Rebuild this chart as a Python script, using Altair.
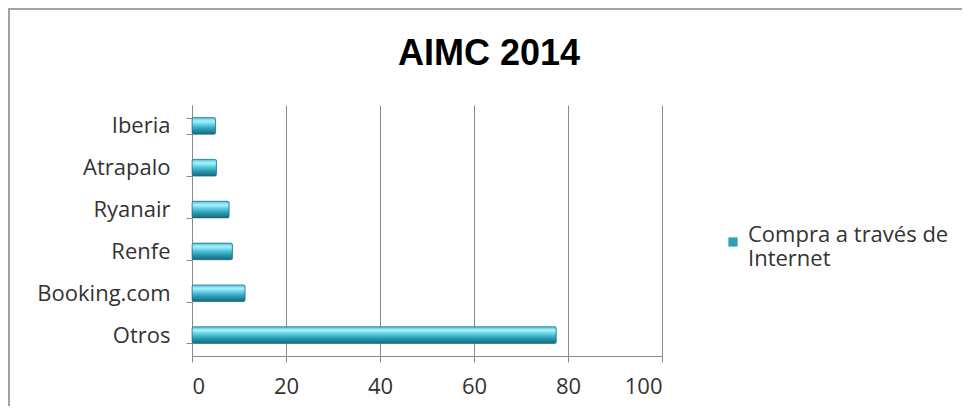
import altair as alt
import pandas as pd

categories = ["Iberia", "Atrapalo", "Ryanair", "Renfe", "Booking.com", "Otros"]
values = [5.0, 5.2, 7.9, 8.6, 11.3, 77.5]
series_name = "Compra a través de Internet"
x_ticks = [0, 20, 40, 60, 80, 100]
title_text = "AIMC 2014"

df = pd.DataFrame({
    "cat": categories,
    "val": values,
    "serie": [series_name] * len(categories),
})

gradient = alt.LinearGradient(
    gradient="linear", x1=0, y1=0, x2=0, y2=1,
    stops=[
        alt.GradientStop(offset=0.0, color="#4fc2d8"),
        alt.GradientStop(offset=0.22, color="#a9f2fc"),
        alt.GradientStop(offset=0.45, color="#58cbe0"),
        alt.GradientStop(offset=0.7, color="#2a9ab2"),
        alt.GradientStop(offset=1.0, color="#17677b"),
    ],
)

GRAY = "#8a8a8a"
LABEL_FONT = "Open Sans"
FS = 22

x_enc = alt.X(
    "val:Q",
    scale=alt.Scale(domain=[0, 100], nice=False),
    axis=alt.Axis(
        values=x_ticks, title=None, grid=True, gridColor=GRAY, gridWidth=1,
        domainColor=GRAY, tickColor=GRAY, tickSize=6, labelPadding=14,
        labelFont=LABEL_FONT, labelFontSize=FS, labelColor="#333333",
    ),
)
y_enc = alt.Y(
    "cat:N", sort=categories,
    scale=alt.Scale(paddingInner=0.6, paddingOuter=0.3),
    axis=alt.Axis(
        title=None, domainColor=GRAY, tickColor=GRAY, tickSize=6,
        tickBand="extent", labelPadding=16, labelFont=LABEL_FONT,
        labelFontSize=FS, labelColor="#333333", grid=False,
    ),
)

legend_bars = alt.Chart(df).mark_bar().encode(
    x=x_enc,
    y=y_enc,
    color=alt.Color(
        "serie:N",
        scale=alt.Scale(range=["#2f9fb8"]),
        legend=alt.Legend(
            title=None, orient="none", legendX=530, legendY=126,
            symbolType="square", symbolSize=85, symbolStrokeWidth=0,
            labelFont=LABEL_FONT, labelFontSize=FS, labelColor="#333333",
            labelBaseline="alphabetic", labelOffset=4, padding=0,
            labelExpr="['Compra a través de', 'Internet']", labelLimit=400,
        ),
    ),
)

bars = alt.Chart(df).mark_bar(
    fill=gradient, stroke="#1c6f83", strokeWidth=0.6, cornerRadius=2
).encode(x=x_enc, y=y_enc)

frame = alt.Chart(df).mark_rect(
    filled=False, stroke="#a3a3a3", strokeWidth=2, clip=False
).encode(
    x=alt.value(-183), x2=alt.value(800),
    y=alt.value(-96), y2=alt.value(330),
)

chart = alt.layer(frame, legend_bars, bars).properties(
    width=470, height=251,
    autosize=alt.AutoSizeParams(type="none"),
    padding={"left": 184, "top": 97, "right": 300, "bottom": 50},
    title=alt.TitleParams(
        title_text, font="Liberation Sans", fontSize=36, fontWeight="bold",
        color="#000000", anchor="middle", frame="group", dx=62, offset=-93,
        baseline="alphabetic",
    ),
).configure_view(stroke=None)

chart.save("out.html", embed_options={"renderer": "svg", "actions": False})
